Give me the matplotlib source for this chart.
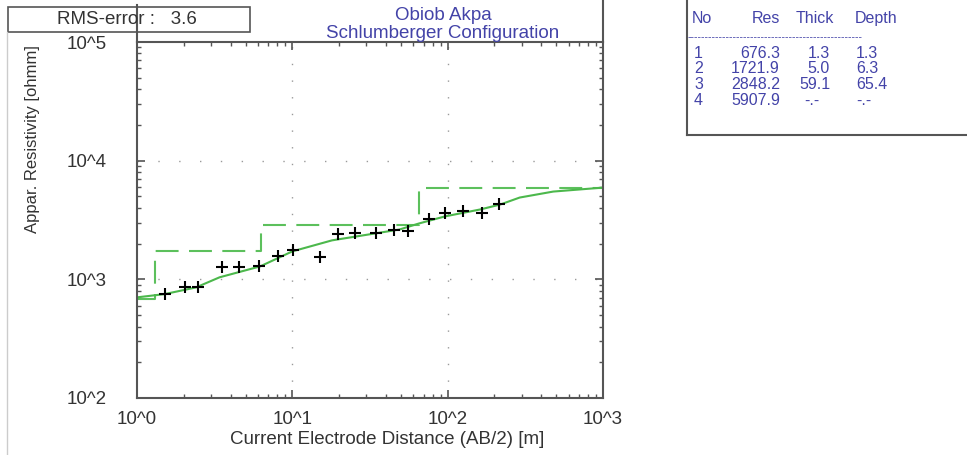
import matplotlib
matplotlib.use("Agg")
import matplotlib.pyplot as plt
from matplotlib.patches import Rectangle
from matplotlib.lines import Line2D
from matplotlib.ticker import LogLocator, NullFormatter

plt.rcParams['font.family'] = ['Liberation Sans', 'DejaVu Sans']

# Field data (AB/2 in m, apparent resistivity in ohmm)
ab2 = [1.51, 2.04, 2.47, 3.53, 4.54, 6.1, 8.09, 10.1, 15.1, 19.7,
       25.3, 34.6, 45.2, 55.6, 75.9, 96.2, 125.6, 166, 214]
rho_obs = [750, 870, 870, 1260, 1280, 1290, 1560, 1750, 1540, 2390,
           2440, 2480, 2580, 2530, 3250, 3590, 3730, 3590, 4350]

# Calculated curve
ab2_fit = [1.0, 1.5, 2.4, 3.4, 6.2, 10, 18, 49, 65, 96, 162, 218, 291, 478, 1000]
rho_fit = [705, 750, 855, 1040, 1285, 1720, 2130, 2630, 2950, 3390, 3880,
           4270, 4890, 5490, 5930]

# Layer model
layer_no = [1, 2, 3, 4]
res = [676.3, 1721.9, 2848.2, 5907.9]
thick = ["1.3", "5.0", "59.1", "-.-"]
depth = ["1.3", "6.3", "65.4", "-.-"]
depth_val = [1.3, 6.3, 65.4]

rms = 3.6
xticks = [1, 10, 100, 1000]
xtick_labels = ["10^0", "10^1", "10^2", "10^3"]
yticks = [100, 1000, 10000, 100000]
ytick_labels = ["10^2", "10^3", "10^4", "10^5"]

W, H = 967, 455
fig = plt.figure(figsize=(W / 100, H / 100), dpi=100)
ax = fig.add_axes([137 / W, 1 - 398 / H, (603 - 137) / W, (398 - 42) / H])

txt_col = '#333333'
blue = '#4343a8'
green = '#4cb84c'
spine_col = '#555555'
fs = 13.5

# step model (dashed)
step_x = [1.0] + depth_val + [1000]
step_y = res + [res[-1]]
ax.step(step_x, step_y, where='post', color='#5cc05c', lw=1.5,
        linestyle=(0, (11, 5)))
# calculated curve
ax.plot(ab2_fit, rho_fit, color=green, lw=1.5)
# field points
ax.plot(ab2, rho_obs, '+', color='black', markersize=9, mew=1.5)

ax.set_xscale('log')
ax.set_yscale('log')
ax.set_xlim(1, 1000)
ax.set_ylim(100, 100000)

ax.set_xticks(xticks, xtick_labels)
ax.set_yticks(yticks, ytick_labels)
ax.xaxis.set_minor_locator(LogLocator(base=10, subs=range(2, 10)))
ax.yaxis.set_minor_locator(LogLocator(base=10, subs=range(2, 10)))
ax.xaxis.set_minor_formatter(NullFormatter())
ax.yaxis.set_minor_formatter(NullFormatter())
ax.tick_params(which='both', direction='in', top=True, right=True,
               colors=spine_col, labelcolor=txt_col, labelsize=fs)
ax.tick_params(which='major', length=6, width=1.2)
ax.tick_params(which='minor', length=3, width=1)
ax.tick_params(axis='y', pad=22)
ax.tick_params(axis='x', pad=9)

for sp in ax.spines.values():
    sp.set_color(spine_col)
    sp.set_linewidth(1.5)

for v in [10, 100]:
    ax.axvline(v, color='#9a9a9a', lw=1, linestyle=(0, (1, 11)), zorder=0)
for v in [1000, 10000]:
    ax.axhline(v, color='#9a9a9a', lw=1, linestyle=(0, (1, 14)), zorder=0)

# axis labels
fig.text(33 / W, 1 - 139 / H, "Appar. Resistivity [ohmm]", rotation=90,
         ha='center', va='center', fontsize=12, color=txt_col)
fig.text(387 / W, 1 - 439 / H, "Current Electrode Distance (AB/2) [m]",
         ha='center', va='center', fontsize=fs, color=txt_col)

# title
fig.text(443 / W, 1 - 15 / H, "Obiob Akpa", ha='center', va='center',
         fontsize=fs, color=blue)
fig.text(443 / W, 1 - 33 / H, "Schlumberger Configuration", ha='center',
         va='center', fontsize=fs, color=blue)

# RMS box
fig.patches.append(Rectangle((8 / W, 1 - 32 / H), 242 / W, 25 / H,
                             transform=fig.transFigure, fill=False,
                             edgecolor=spine_col, lw=1.2))
fig.text(127 / W, 1 - 20 / H, "RMS-error :   %.1f" % rms, ha='center',
         va='center', fontsize=fs, color=txt_col)

# spine extensions and frame lines
fig.lines.append(Line2D([137 / W, 137 / W], [1 - 42 / H, 1 - 5 / H],
                        transform=fig.transFigure, color=spine_col, lw=1.5))
fig.lines.append(Line2D([603 / W, 603 / W], [1 - 42 / H, 1.0],
                        transform=fig.transFigure, color=spine_col, lw=1.5))
fig.lines.append(Line2D([7 / W, 7 / W], [0, 1 - 32 / H],
                        transform=fig.transFigure, color='#cccccc', lw=1))

# layer table
fig.lines.append(Line2D([687 / W, 687 / W], [1 - 135 / H, 1.0],
                        transform=fig.transFigure, color=spine_col, lw=1.5))
fig.lines.append(Line2D([687 / W, 1.0], [1 - 135 / H, 1 - 135 / H],
                        transform=fig.transFigure, color=spine_col, lw=1.5))

tsize = 11.5
hy = 1 - 23 / H
fig.text(692 / W, hy, "No", color=blue, fontsize=tsize, va='baseline')
fig.text(780 / W, hy, "Res", color=blue, fontsize=tsize, va='baseline', ha='right')
fig.text(796 / W, hy, "Thick", color=blue, fontsize=tsize, va='baseline')
fig.text(855 / W, hy, "Depth", color=blue, fontsize=tsize, va='baseline')
fig.text(688 / W, 1 - 37 / H, "-" * 50, color=blue, fontsize=7.5, va='center')

row_y = [58, 73, 89, 105]
for i in range(4):
    y = 1 - row_y[i] / H
    fig.text(694 / W, y, str(layer_no[i]), color=blue, fontsize=tsize, va='baseline')
    fig.text(780 / W, y, "%.1f" % res[i], color=blue, fontsize=tsize,
             va='baseline', ha='right')
    if thick[i] == "-.-":
        fig.text(812 / W, y, thick[i], color=blue, fontsize=tsize,
                 va='baseline', ha='center')
    else:
        fig.text(830 / W, y, thick[i], color=blue, fontsize=tsize,
                 va='baseline', ha='right')
    fig.text(856 / W, y, depth[i], color=blue, fontsize=tsize, va='baseline')

fig.savefig("out.png", dpi=100)
